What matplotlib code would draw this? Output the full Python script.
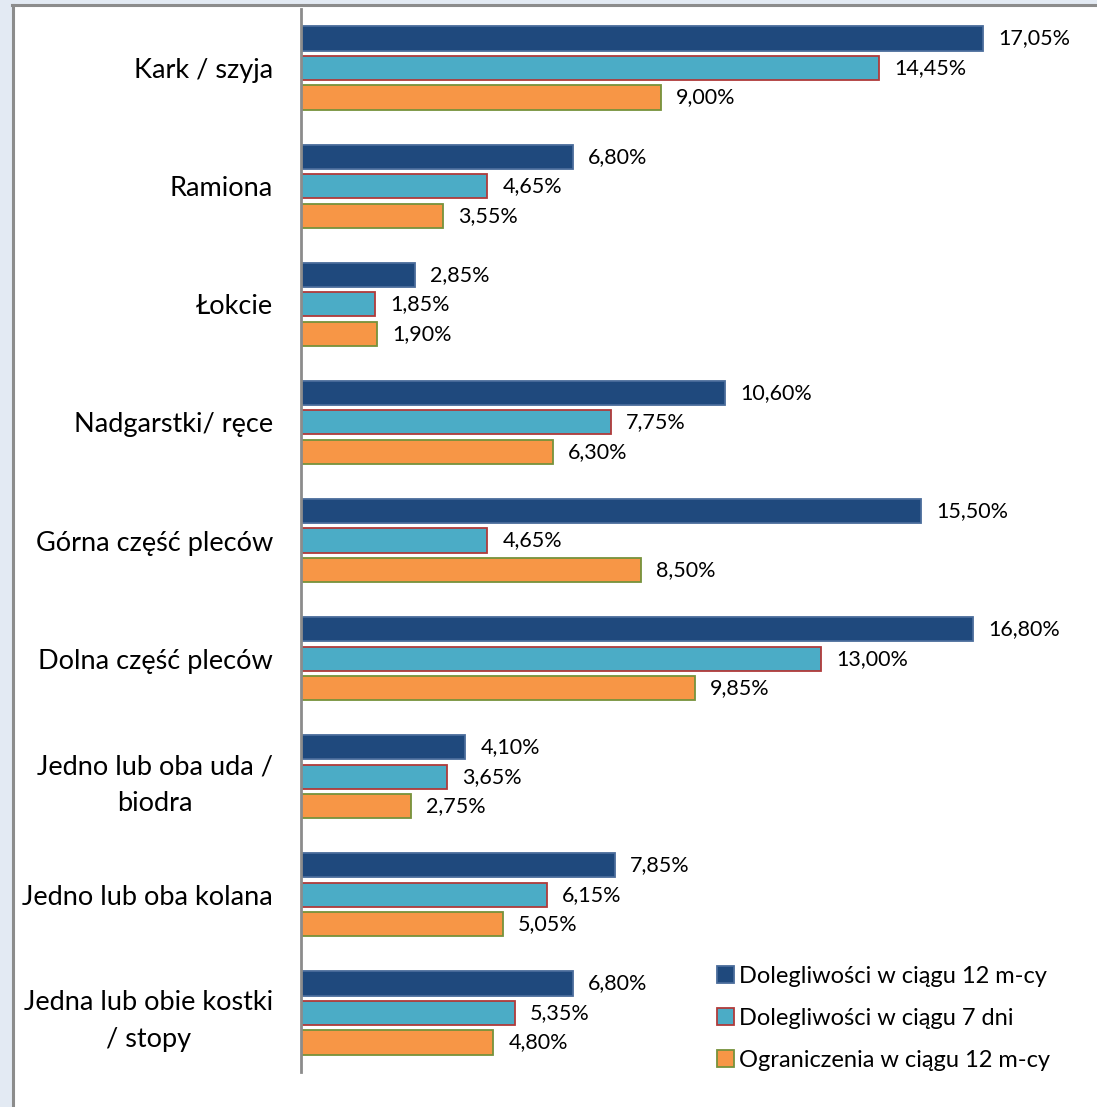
import matplotlib
matplotlib.use("Agg")
import matplotlib.pyplot as plt
from matplotlib.patches import Rectangle
from matplotlib.lines import Line2D
import numpy as np

plt.rcParams['font.family'] = ['Lato', 'DejaVu Sans']

# data
categories = ["Kark / szyja", "Ramiona", "Łokcie", "Nadgarstki/ ręce",
              "Górna część pleców", "Dolna część pleców",
              "Jedno lub oba uda /\nbiodra", "Jedno lub oba kolana",
              "Jedna lub obie kostki\n/ stopy"]
vals_12m = [17.05, 6.80, 2.85, 10.60, 15.50, 16.80, 4.10, 7.85, 6.80]
vals_7d = [14.45, 4.65, 1.85, 7.75, 4.65, 13.00, 3.65, 6.15, 5.35]
vals_limit = [9.00, 3.55, 1.90, 6.30, 8.50, 9.85, 2.75, 5.05, 4.80]
series_names = ["Dolegliwości w ciągu 12 m-cy", "Dolegliwości w ciągu 7 dni",
                "Ograniczenia w ciągu 12 m-cy"]

face_colors = ["#1F497D", "#4BACC6", "#F79646"]
edge_colors = ["#4A6C9B", "#B03A3A", "#76923C"]

fig = plt.figure(figsize=(10.97, 11.07), dpi=100)
fig.patch.set_facecolor("white")

# window-ish frame around the chart
fig.add_artist(Rectangle((0, 0), 12 / 1097, 1, transform=fig.transFigure,
                         facecolor="#E3EAF3", edgecolor="none"))
fig.add_artist(Rectangle((0, 1 - 4 / 1107), 1, 4 / 1107, transform=fig.transFigure,
                         facecolor="#E3EAF3", edgecolor="none"))
fig.add_artist(Line2D([13 / 1097, 13 / 1097], [0, 1 - 5 / 1107],
                      transform=fig.transFigure, color="#8C8C8C", lw=2.2))
fig.add_artist(Line2D([12 / 1097, 1], [1 - 5 / 1107, 1 - 5 / 1107],
                      transform=fig.transFigure, color="#8C8C8C", lw=2.2))

ax = fig.add_axes([301 / 1097, 35 / 1107, 1 - 301 / 1097, 1063 / 1107])

n = len(categories)
y = np.arange(n)
pitch = 0.25
height = 0.205
all_vals = [vals_12m, vals_7d, vals_limit]
for i, vals in enumerate(all_vals):
    pos = y + (i - 1) * pitch
    bars = ax.barh(pos, vals, height=height, color=face_colors[i],
                   edgecolor=edge_colors[i], linewidth=1.3,
                   label=series_names[i])
    for b, v in zip(bars, vals):
        ax.annotate(("%.2f%%" % v).replace(".", ","),
                    (b.get_width(), b.get_y() + b.get_height() / 2),
                    xytext=(11, 0), textcoords="offset points",
                    ha="left", va="center", fontsize=15.5, color="black")

ax.set_ylim(n - 0.5, -0.5)
ax.set_xlim(0, 19.9)
ax.set_yticks(y)
ax.set_yticklabels(categories, fontsize=19.5, multialignment="center",
                   linespacing=1.6)
ax.tick_params(axis="y", length=0, pad=20)
ax.set_xticks([])
for s in ["top", "right", "bottom"]:
    ax.spines[s].set_visible(False)
ax.spines["left"].set_color("#8C8C8C")
ax.spines["left"].set_linewidth(2)
ax.patch.set_alpha(0)

ax.legend(loc="lower left", bbox_to_anchor=((708 - 301) / 796, 0.0 - 8 / 1063),
          frameon=False, fontsize=17, handlelength=0.7, handleheight=0.7,
          handletextpad=0.2, labelspacing=0.88, borderaxespad=0)

fig.savefig("out.png", dpi=100)
